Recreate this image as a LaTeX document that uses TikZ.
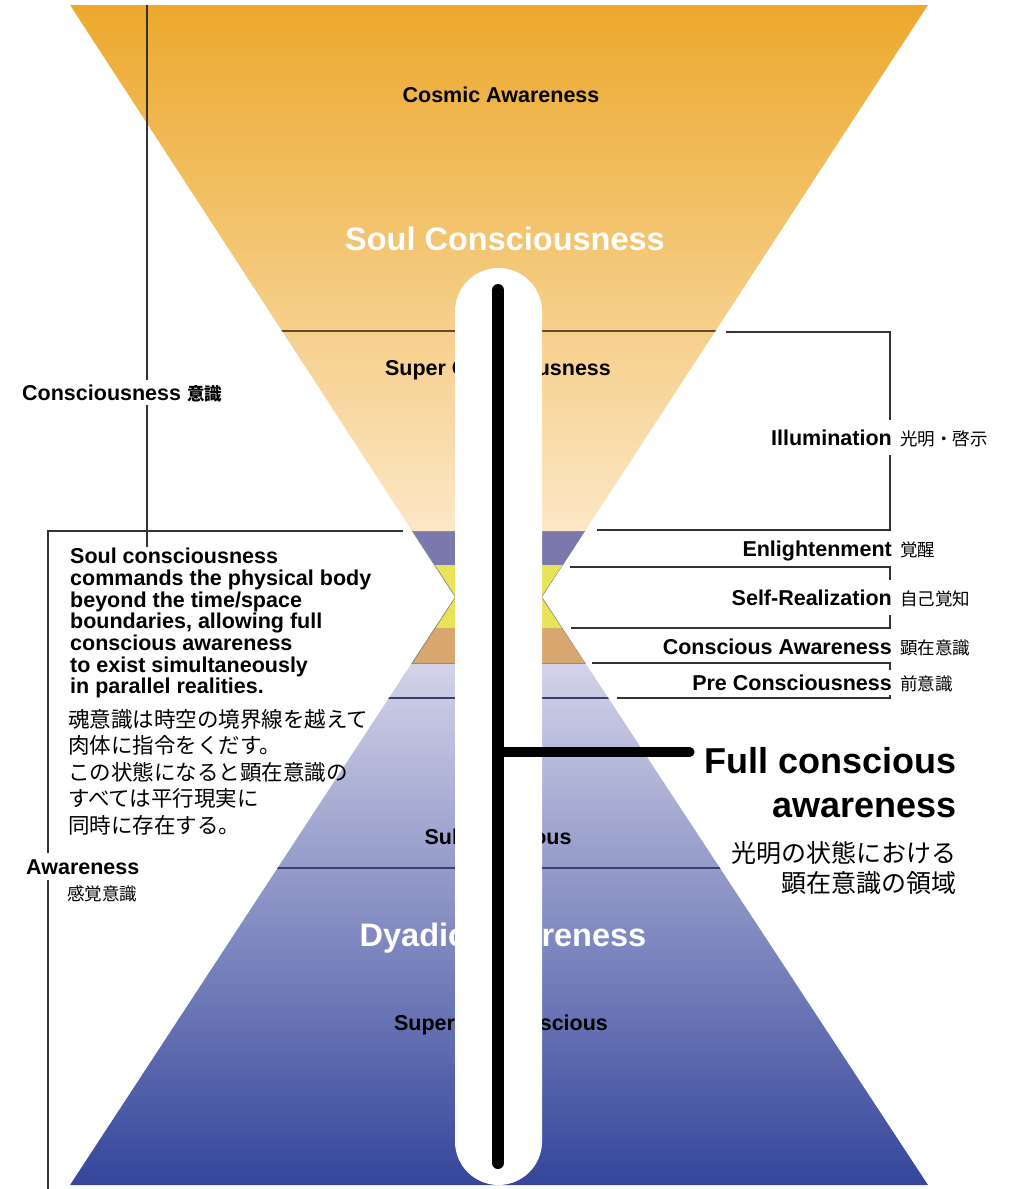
\documentclass[tikz,border=0pt]{standalone}
\usepackage{fontspec}
\setmainfont{Liberation Sans}
\newfontfamily\jpfont{Noto Sans CJK JP}
\usetikzlibrary{positioning}
\definecolor{orangetop}{HTML}{ECA82B}
\definecolor{orangebot}{HTML}{FCE7C6}
\definecolor{lavtop}{HTML}{D3D3E8}
\definecolor{lavmid}{HTML}{7374B2}
\definecolor{lavbot}{HTML}{33449A}
\definecolor{neckpurple}{HTML}{7A78AC}
\definecolor{neckyellow}{HTML}{E9E35A}
\definecolor{necktan}{HTML}{D8A66F}
\definecolor{sepbrown}{HTML}{5E4C2C}
\definecolor{sepnavy}{HTML}{3B3C70}
\newcommand{\jp}[1]{{\jpfont\fontsize{17.5}{18}\selectfont #1}}

\begin{document}
\begin{tikzpicture}[x=1pt,y=-1pt,
  lbl/.style={font=\bfseries\fontsize{21.5}{22}\selectfont,inner sep=0pt,text height=15.5pt,text depth=0pt},
  jlbl/.style={font=\jpfont\fontsize{17.5}{18}\selectfont,inner sep=0pt},
  big/.style={font=\bfseries\fontsize{32.5}{34}\selectfont,text=white,inner sep=0pt},
  brk/.style={draw=black!80,line width=1.8pt},
  bar/.style={line width=12pt,line cap=round}]
\useasboundingbox (0,0) rectangle (1011,1189);

\begin{scope}
\path[clip] (70,5) -- (928,5) -- (542,597) -- (928,1185) -- (70,1185) -- (455,597) -- cycle;
\shade[top color=orangetop,bottom color=orangebot] (0,0) rectangle (1011,531);
\fill[neckpurple] (0,531) rectangle (1011,565);
\fill[neckyellow] (0,565) rectangle (1011,628);
\fill[necktan] (0,628) rectangle (1011,663);
\shade[top color=lavtop,middle color=lavmid,bottom color=lavbot] (0,663) rectangle (1011,1189);
\draw[sepbrown,line width=2pt] (0,331) -- (1011,331);
\draw[sepnavy,line width=2pt] (0,698) -- (1011,698);
\draw[sepnavy,line width=2pt] (0,868) -- (1011,868);
\draw[black!45,line width=1pt] (0,531) -- (1011,531) (0,663) -- (1011,663);
\draw[black!45,line width=1.4pt] (412,531) -- (455,597) -- (412,663) (586,531) -- (542,597) -- (586,663);
\end{scope}

\node[lbl,anchor=base] (cosmic) at (501,102) {Cosmic Awareness};
\node[big,anchor=base] (soul) at (505,250) {Soul Consciousness};
\node[lbl,anchor=base] (super) at (498,375) {Super Consciousness};
\node[lbl,anchor=base] (sub) at (498,844) {Subconscious};
\node[big,anchor=base] (dyadic) at (503,946) {Dyadic Awareness};
\node[lbl,anchor=base] (supsub) at (501,1030) {Super Subconscious};

\fill[white,rounded corners=43.5pt] (455,268) rectangle (542,1185);

\coordinate (top) at (498,290);
\coordinate (bot) at (498,1163);
\coordinate (mid) at (498,752);
\node[font=\bfseries\fontsize{36}{44}\selectfont,align=right,anchor=north east,inner sep=0pt] (fca) at (957,747) {Full conscious\\awareness};
\node[font=\jpfont\fontsize{25}{30}\selectfont,align=right,inner sep=0pt,below=23pt of fca.south east,anchor=north east] (fcaj) {光明の状態における\\顕在意識の領域};
\draw[bar] (top) -- (bot);
\draw[bar,line width=10pt,shorten >=15pt] (mid) -- (mid -| fca.west);

\coordinate (c1) at (147,5);
\coordinate (c2) at (147,547);
\draw[brk] (c1) -- (c2);
\node[lbl,fill=white,inner ysep=4.5pt,anchor=base west] (consc) at (22,400) {Consciousness \jp{意識}};

\coordinate (a1) at (403,531);
\coordinate (a2) at (48,531);
\coordinate (a3) at (48,1189);
\draw[brk] (a1) -- (a2) -- (a3);
\node[lbl,fill=white,inner ysep=6pt,anchor=base west] (aware) at (26,874) {Awareness};
\node[jlbl,anchor=base west] (awarej) at (67,900) {感覚意識};

\node[font=\bfseries\fontsize{21.5}{21.7}\selectfont,align=left,anchor=north west,inner sep=0pt] (para) at (70,548)
  {Soul consciousness\\commands the physical body\\beyond the time/space\\boundaries, allowing full\\conscious awareness\\to exist simultaneously\\in parallel realities.};
\node[font=\jpfont\fontsize{21.5}{26.5}\selectfont,align=left,anchor=north west,inner sep=0pt] (paraj) at (68,709)
  {魂意識は時空の境界線を越えて\\肉体に指令をくだす。\\この状態になると顕在意識の\\すべては平行現実に\\同時に存在する。};

\coordinate (i1) at (726,332);
\coordinate (i2) at (890,332);
\coordinate (i3) at (890,530);
\coordinate (i4) at (597,530);
\draw[brk] (i1) -- (i2) -- (i3) -- (i4);
\node[lbl,fill=white,inner ysep=9.5pt,anchor=base east] (illum) at (892,445) {Illumination};
\node[jlbl,right=8pt of illum.base east,anchor=base west] (illumj) {光明・啓示};

\node[lbl,anchor=base east] (enl) at (892,556) {Enlightenment};
\node[jlbl,right=8pt of enl.base east,anchor=base west] (enlj) {覚醒};

\coordinate (s1) at (570,567);
\coordinate (s2) at (890,567);
\coordinate (s3) at (890,628);
\coordinate (s4) at (571,628);
\draw[brk] (s1) -- (s2) -- (s3) -- (s4);
\node[lbl,fill=white,inner ysep=10pt,anchor=base east] (self) at (892,605) {Self-Realization};
\node[jlbl,right=8pt of self.base east,anchor=base west] (selfj) {自己覚知};

\node[lbl,anchor=base east] (consaw) at (892,654) {Conscious Awareness};
\node[jlbl,right=8pt of consaw.base east,anchor=base west] (consawj) {顕在意識};

\coordinate (p1) at (592,663);
\coordinate (p2) at (890,663);
\coordinate (p3) at (890,698);
\coordinate (p4) at (617,698);
\draw[brk] (p1) -- (p2) -- (p3) -- (p4);
\node[lbl,fill=white,inner ysep=4.5pt,anchor=base east] (pre) at (892,690) {Pre Consciousness};
\node[jlbl,right=8pt of pre.base east,anchor=base west] (prej) {前意識};
\end{tikzpicture}
\end{document}
